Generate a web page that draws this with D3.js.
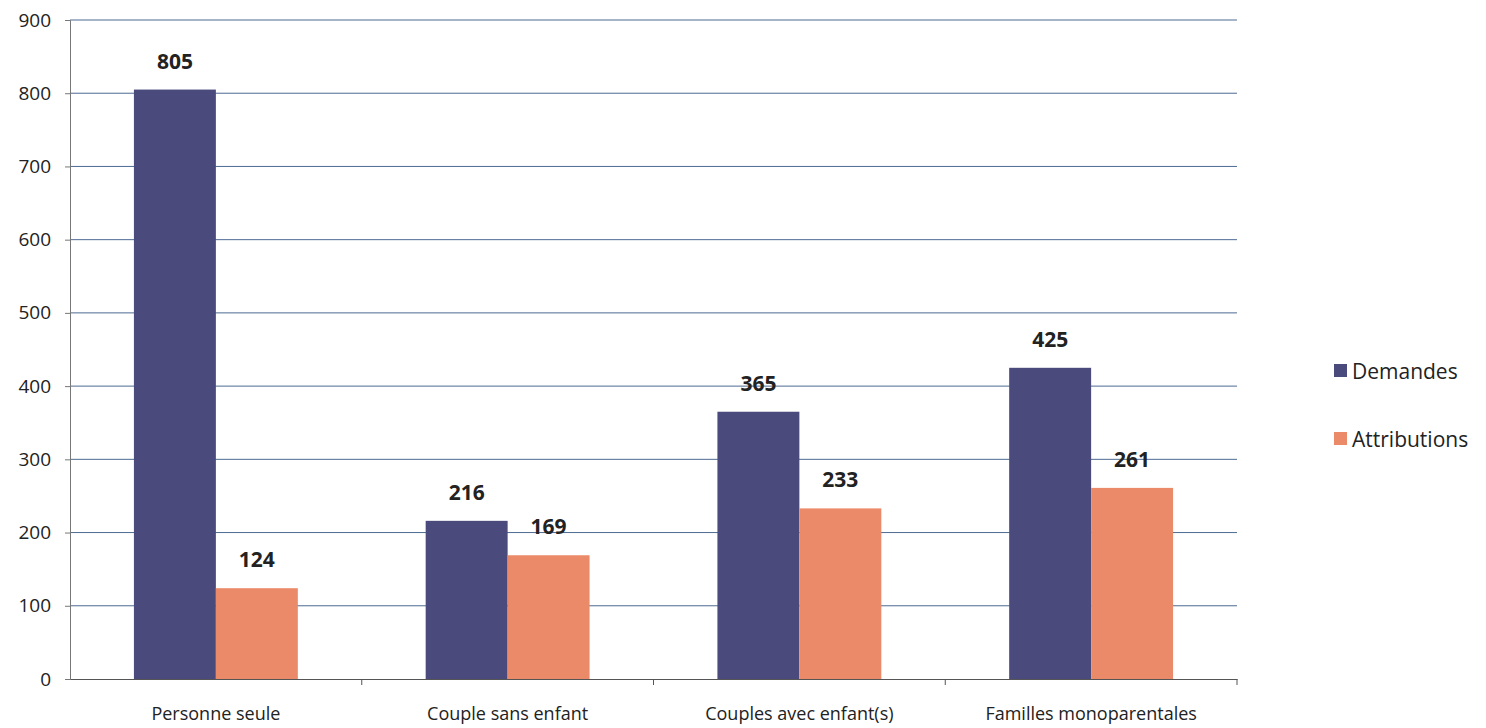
<!DOCTYPE html>
<html><head><meta charset="utf-8">
<script src="https://cdn.jsdelivr.net/npm/d3@7"></script>
<style>body{margin:0;background:#fff;font-family:"Open Sans",sans-serif}</style>
</head><body><svg id="c" width="1486" height="728"></svg>
<script>
const categories = ["Personne seule","Couple sans enfant","Couples avec enfant(s)","Familles monoparentales"];
const seriesNames = ["Demandes","Attributions"];
const demandes = [805,216,365,425];
const attributions = [124,169,233,261];
const yTicks = [0,100,200,300,400,500,600,700,800,900];
const colors = ["#4a4a7c","#eb8a68"];

const svg = d3.select("#c");
const m = {l:70, r:1237, t:20, b:679};
const x = d3.scaleBand().domain(categories).range([m.l,m.r]).paddingInner(0).paddingOuter(0);
const x1 = d3.scaleBand().domain(seriesNames).range([0,x.bandwidth()]).paddingOuter(0.78).paddingInner(0);
const y = d3.scaleLinear().domain([0,900]).range([m.b,m.t]);

// gridlines
svg.append("g").selectAll("line").data(yTicks.slice(1)).join("line")
  .attr("x1",m.l).attr("x2",m.r).attr("y1",d=>y(d)).attr("y2",d=>y(d))
  .attr("stroke","#4d6a93").attr("stroke-width",1);

// y axis
const ya = svg.append("g").attr("transform",`translate(${m.l},0)`)
  .call(d3.axisLeft(y).tickValues(yTicks).tickSize(5).tickPadding(14));
ya.select(".domain").attr("stroke","#777");
ya.selectAll(".tick line").attr("stroke","#777");
ya.selectAll("text").attr("font-size",19).attr("fill","#222").attr("font-family","Open Sans");

// bars
const data = categories.map((c,i)=>({c, vals:[demandes[i],attributions[i]]}));
const g = svg.append("g").selectAll("g").data(data).join("g")
  .attr("transform",d=>`translate(${x(d.c)},0)`);
g.selectAll("rect").data(d=>d.vals.map((v,j)=>({s:seriesNames[j],v,j}))).join("rect")
  .attr("x",d=>x1(d.s)).attr("width",x1.bandwidth())
  .attr("y",d=>y(d.v)).attr("height",d=>y(0)-y(d.v))
  .attr("fill",d=>colors[d.j]);
g.selectAll("text").data(d=>d.vals.map((v,j)=>({s:seriesNames[j],v,j}))).join("text")
  .attr("x",d=>x1(d.s)+x1.bandwidth()/2).attr("y",d=>y(d.v)-21)
  .attr("text-anchor","middle").attr("font-size",21).attr("font-weight","bold")
  .attr("fill","#222").text(d=>d.v);

// x axis
const xa = svg.append("g").attr("transform",`translate(0,${m.b})`)
  .call(d3.axisBottom(x).tickSize(0).tickPadding(28));
xa.select(".domain").attr("stroke","#555");
xa.selectAll("text").attr("font-size",18).attr("fill","#222").attr("font-family","Open Sans");
svg.append("g").selectAll("line").data(categories).join("line")
  .attr("x1",d=>x(d)+x.bandwidth()).attr("x2",d=>x(d)+x.bandwidth())
  .attr("y1",m.b).attr("y2",m.b+6).attr("stroke","#555");

// legend
const lg = svg.append("g").selectAll("g").data(seriesNames).join("g")
  .attr("transform",(d,i)=>`translate(1334,${371+i*68})`);
lg.append("rect").attr("x",0).attr("y",-7).attr("width",13).attr("height",13).attr("fill",(d,i)=>colors[i]);
lg.append("text").attr("x",18).attr("y",8).attr("font-size",21).attr("fill","#222").text(d=>d);
</script></body></html>
